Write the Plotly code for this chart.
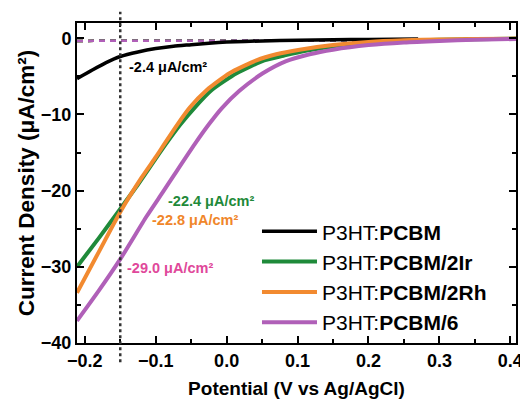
import plotly.graph_objects as go

# Potential (V vs Ag/AgCl) and current density (uA/cm2)
v_black = [-0.211, -0.19, -0.17, -0.15, -0.125, -0.1, -0.075, -0.05, -0.025, 0.0, 0.05, 0.1, 0.15, 0.2, 0.27]
j_black = [-5.3, -4.2, -3.2, -2.4, -1.8, -1.35, -1.05, -0.85, -0.65, -0.5, -0.35, -0.25, -0.2, -0.15, -0.1]

v_green = [-0.211, -0.18, -0.15, -0.125, -0.1, -0.085, -0.065, -0.045, -0.021, 0.014, 0.053, 0.08, 0.103, 0.15, 0.2, 0.25, 0.3, 0.35, 0.408]
j_green = [-30.0, -26.2, -22.4, -19.2, -15.8, -13.8, -11.3, -9.1, -6.8, -4.6, -2.9, -2.3, -1.8, -1.1, -0.6, -0.35, -0.2, -0.12, -0.05]

v_orange = [-0.211, -0.18, -0.15, -0.12, -0.1, -0.09, -0.07, -0.052, -0.028, 0.004, 0.042, 0.07, 0.103, 0.15, 0.2, 0.25, 0.3, 0.35, 0.408]
j_orange = [-33.4, -28.0, -22.8, -18.3, -15.6, -14.2, -11.4, -9.1, -6.8, -4.6, -2.9, -2.1, -1.5, -0.9, -0.5, -0.28, -0.15, -0.1, -0.05]

v_purple = [-0.211, -0.18, -0.15, -0.113, -0.09, -0.073, -0.045, -0.025, -0.007, 0.018, 0.051, 0.084, 0.117, 0.15, 0.2, 0.25, 0.3, 0.35, 0.408]
j_purple = [-37.1, -33.1, -29.0, -23.4, -20.2, -17.8, -13.9, -11.3, -9.2, -6.9, -4.6, -3.0, -2.1, -1.5, -0.9, -0.55, -0.35, -0.2, -0.1]

v_dark = [-0.211, -0.1, 0.0, 0.1, 0.2, 0.3, 0.408]
j_dark = [-0.35, -0.35, -0.33, -0.3, -0.25, -0.15, -0.05]

names = ["P3HT:<b>PCBM</b>", "P3HT:<b>PCBM/2Ir</b>", "P3HT:<b>PCBM/2Rh</b>", "P3HT:<b>PCBM/6</b>"]
colors = ["#000000", "#1f8a3a", "#f28a30", "#b060b8"]

marker_v = -0.15
labels = ["-2.4 μA/cm²", "-22.4 μA/cm²", "-22.8 μA/cm²", "-29.0 μA/cm²"]
label_colors = ["#000000", "#1f8a3a", "#f0862a", "#e0489a"]
label_x = [-0.141, -0.085, -0.108, -0.144]
label_y = [-3.8, -21.3, -23.9, -30.1]

FONT = "Arial, Liberation Sans, sans-serif"

fig = go.Figure()

# dark-current dashed traces
for c in [colors[2], colors[0], colors[1], colors[3]]:
    fig.add_trace(go.Scatter(x=v_dark, y=j_dark, mode="lines", showlegend=False,
                             line=dict(color=c, width=2.5, dash="6px,5px"), hoverinfo="skip"))

series = [(v_black, j_black), (v_green, j_green), (v_orange, j_orange), (v_purple, j_purple)]
for i, (vx, jy) in enumerate(series):
    fig.add_trace(go.Scatter(x=vx, y=jy, mode="lines", name=names[i], legendgroup=str(i),
                             line=dict(color=colors[i], width=4 if i else 3.5, shape="spline", smoothing=0.6)))

fig.add_shape(type="line", xref="x", yref="paper", x0=marker_v, x1=marker_v, y0=-0.06, y1=1.035,
              line=dict(color="#333333", width=2.5, dash="dot"))

for t, c, x, y in zip(labels, label_colors, label_x, label_y):
    fig.add_annotation(x=x, y=y, xref="x", yref="y", text=f"<b>{t}</b>", showarrow=False,
                       xanchor="left", yanchor="middle", font=dict(size=14.5, color=c, family=FONT))

axis_common = dict(showline=True, linewidth=2, linecolor="black", mirror="ticks", ticks="inside",
                   tickwidth=2, ticklen=7, tickcolor="black", showgrid=False, zeroline=False,
                   automargin=False, ticklabeloverflow="allow",
                   tickfont=dict(size=18, color="black", family=FONT, weight="bold"))

fig.update_xaxes(range=[-0.211, 0.408], dtick=0.1, tick0=0, tickformat=".1f",
                 minor=dict(dtick=0.05, ticks="inside", ticklen=4, tickwidth=1.5, tickcolor="black"),
                 title=dict(text="<b>Potential (V vs Ag/AgCl)</b>", standoff=12,
                            font=dict(size=19, color="black", family=FONT)),
                 **axis_common)
fig.update_yaxes(range=[-40, 2], dtick=10, tick0=0,
                 minor=dict(dtick=5, ticks="inside", ticklen=4, tickwidth=1.5, tickcolor="black"),
                 title=dict(text="<b>Current Density (μA/cm²)</b>", standoff=0,
                            font=dict(size=22.5, color="black", family=FONT)),
                 **axis_common)

fig.update_layout(
    width=520, height=401,
    margin=dict(l=77, r=4, t=23, b=58),
    plot_bgcolor="white", paper_bgcolor="white",
    legend=dict(x=0.41, y=0.412, xanchor="left", yanchor="top", bgcolor="rgba(0,0,0,0)",
                font=dict(size=21, color="black", family=FONT),
                tracegroupgap=0, itemwidth=55),
)

fig.write_html("out.html", config={"displayModeBar": False},
               post_script="document.body.style.margin='0px';document.body.style.padding='0px';")
